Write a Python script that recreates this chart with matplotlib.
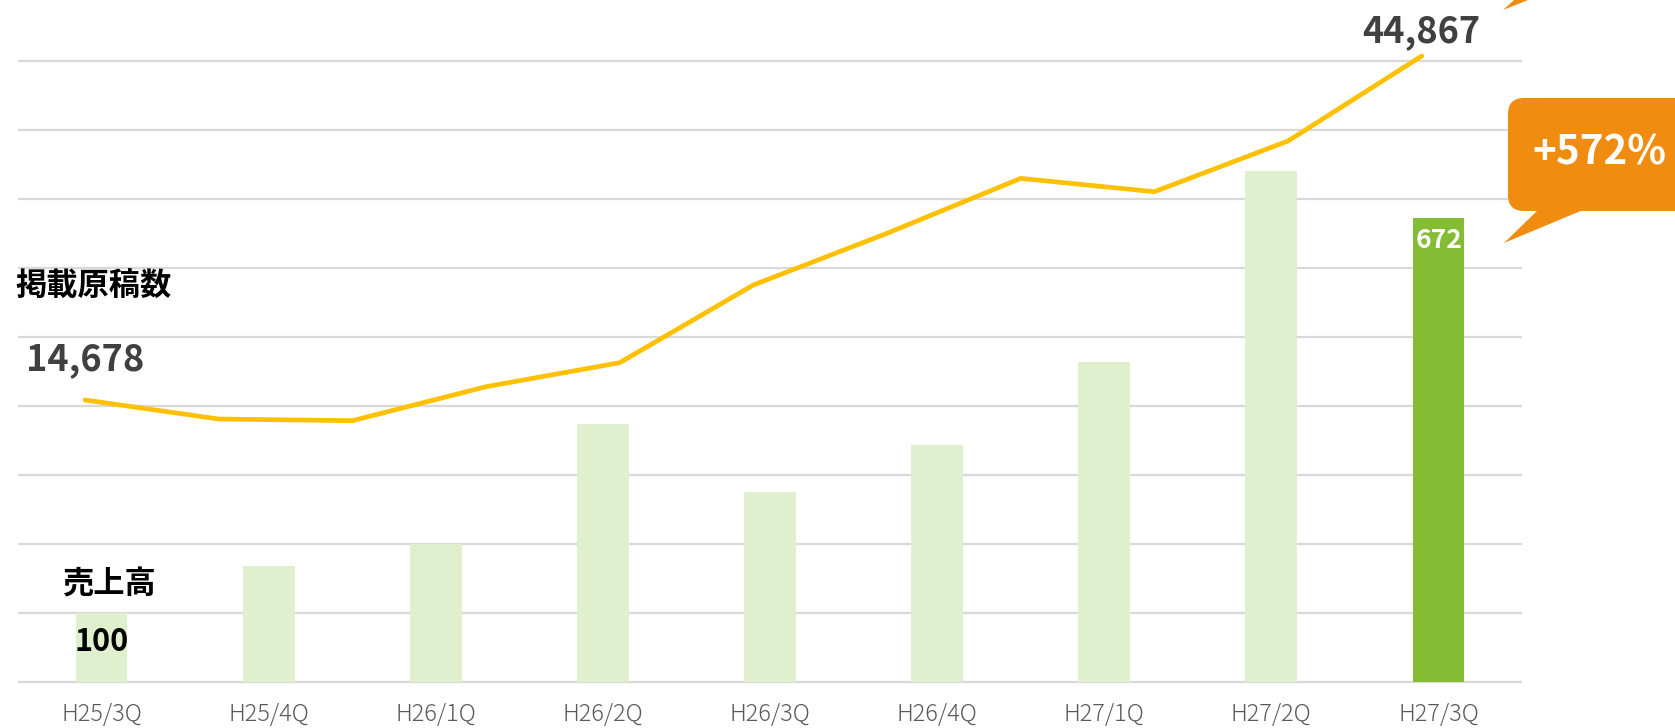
import matplotlib.pyplot as plt
from matplotlib.patches import FancyBboxPatch, Polygon

plt.rcParams['font.family'] = ['Noto Sans CJK JP', 'DejaVu Sans']

# quarterly sales index (first quarter = 100)
quarters = ['H25/3Q', 'H25/4Q', 'H26/1Q', 'H26/2Q', 'H26/3Q',
            'H26/4Q', 'H27/1Q', 'H27/2Q', 'H27/3Q']
sales = [100, 168, 199, 374, 275, 343, 463, 740, 672]

# number of listed manuscripts (11 points along the line)
listings = [14678, 13010, 12861, 15845, 17951, 24770,
            29307, 34125, 32958, 37408, 44867]

growth_label = '+572%'

light_green = '#E0EFCD'
dark_green = '#84BC34'
line_col = '#FFC000'
orange = '#F08C10'
grid_col = '#D9D9D9'

W, H = 1675, 728
fig = plt.figure(figsize=(W / 100, H / 100), dpi=100)

# main axes (bars), in pixel terms: x 18..1522, bottom 690, top 0
rect = [18 / W, (H - 689.7) / H, 1504 / W, 689.7 / H]
ax = fig.add_axes(rect)
colors = [light_green] * (len(sales) - 1) + [dark_green]
ax.bar(range(len(sales)), sales, width=0.31, color=colors, zorder=2)
ax.set_xlim(-0.5, len(sales) - 0.5)
ax.set_ylim(-11.6, 988)
ax.set_yticks(range(0, 1000, 100))
ax.yaxis.grid(True, color=grid_col, lw=1.6, zorder=0)
ax.set_axisbelow(True)
ax.tick_params(axis='y', length=0, labelleft=False)
ax.set_xticks(range(len(quarters)))
ax.set_xticklabels(quarters, fontsize=17, color='#595959', fontweight='light')
ax.tick_params(axis='x', length=0, pad=9)
for s in ax.spines.values():
    s.set_visible(False)

# line on its own axes
ax2 = fig.add_axes(rect, frameon=False)
ax2.plot(range(len(listings)), listings, color=line_col, lw=3.4,
         solid_capstyle='round', solid_joinstyle='miter', zorder=3)
ax2.set_xlim(-0.501, len(listings) - 1 + 0.75)
ax2.set_ylim(-10746, 49782)
ax2.axis('off')

# overlay in pixel coords for labels and callout
ov = fig.add_axes([0, 0, 1, 1], frameon=False)
ov.set_xlim(0, W)
ov.set_ylim(H, 0)
ov.axis('off')

ov.text(94, 287, '掲載原稿数', fontsize=22.5, fontweight='bold', color='black',
        ha='center', va='center')
ov.text(85, 360, f'{listings[0]:,}', fontsize=26, fontweight='bold',
        color='#404040', ha='center', va='center')
ov.text(1421, 32, f'{listings[-1]:,}', fontsize=26, fontweight='bold',
        color='#404040', ha='center', va='center')
ov.text(109.4, 585, '売上高', fontsize=22.5, fontweight='bold', color='black',
        ha='center', va='center')
ov.text(102, 642, f'{sales[0]}', fontsize=22, fontweight='bold', color='black',
        ha='center', va='center')
ov.text(1439, 241, f'{sales[-1]}', fontsize=19, fontweight='bold', color='white',
        ha='center', va='center')

# callout
box = FancyBboxPatch((1508, 98), 250, 113, boxstyle='round,pad=0,rounding_size=16',
                     fc=orange, ec='none')
ov.add_patch(box)
ov.add_patch(Polygon([(1538, 210), (1583, 210), (1504, 243)], closed=True,
                     fc=orange, ec='none'))
ov.add_patch(Polygon([(1503, 10), (1514, 0), (1528, 0)], closed=True,
                     fc=orange, ec='none'))
ov.text(1599, 153, growth_label, fontsize=29, fontweight='bold', color='white',
        ha='center', va='center')

fig.savefig('out.png', dpi=100)
